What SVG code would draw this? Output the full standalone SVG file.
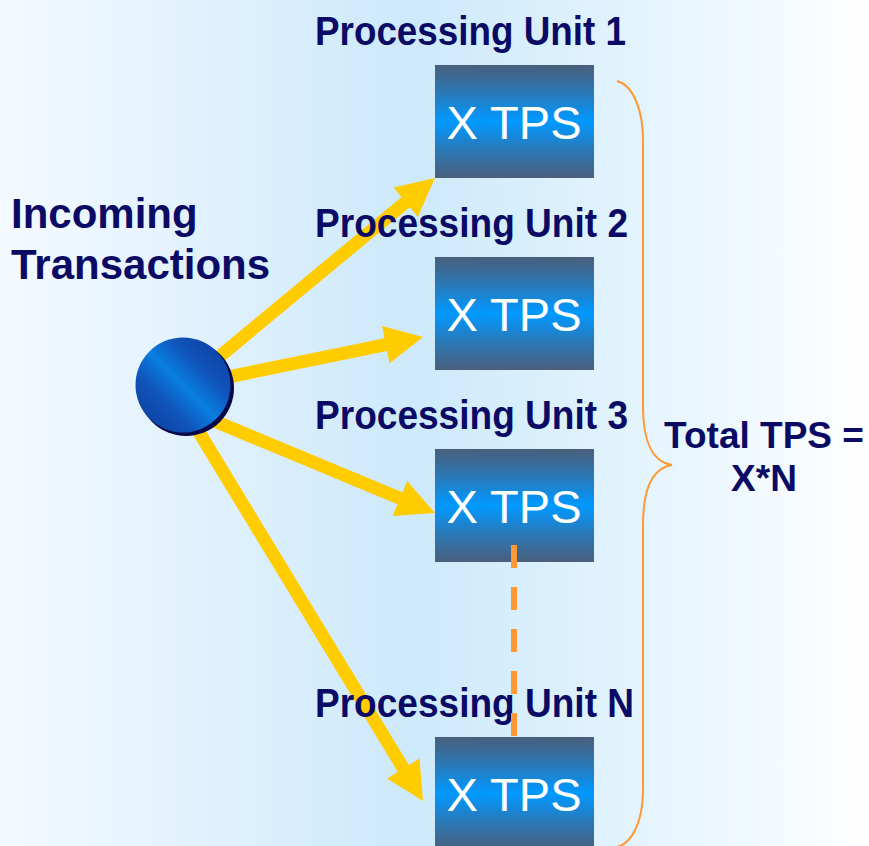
<svg xmlns="http://www.w3.org/2000/svg" width="869" height="846" viewBox="0 0 869 846">
  <defs>
    <linearGradient id="bg" x1="0" y1="0" x2="1" y2="0">
      <stop offset="0" stop-color="#f4faff"/>
      <stop offset="0.47" stop-color="#cde9fb"/>
      <stop offset="0.72" stop-color="#e2f3fd"/>
      <stop offset="1" stop-color="#ffffff"/>
    </linearGradient>
    <linearGradient id="boxg" x1="0" y1="0" x2="0" y2="1">
      <stop offset="0" stop-color="#4a5f7b"/>
      <stop offset="0.25" stop-color="#2a79b8"/>
      <stop offset="0.5" stop-color="#0099ff"/>
      <stop offset="0.75" stop-color="#2a79b8"/>
      <stop offset="1" stop-color="#4a5f7b"/>
    </linearGradient>
    <linearGradient id="sph" x1="1" y1="0" x2="0" y2="1">
      <stop offset="0" stop-color="#0d3d9e"/>
      <stop offset="0.3" stop-color="#1052b8"/>
      <stop offset="0.5" stop-color="#0a7ee0"/>
      <stop offset="0.7" stop-color="#1052b8"/>
      <stop offset="1" stop-color="#0d3a96"/>
    </linearGradient>
    <style>
      .box { fill: url(#boxg); }
      .tps { font-family: "Liberation Sans", Arial, sans-serif; font-size: 47px; fill: #ffffff; text-anchor: middle; }
      .lbl { font-family: "Liberation Sans", Arial, sans-serif; font-weight: bold; font-size: 40px; fill: #0b0b66; }
      .big { font-family: "Liberation Sans", Arial, sans-serif; font-weight: bold; font-size: 42px; fill: #0b0b66; }
      .tot { font-family: "Liberation Sans", Arial, sans-serif; font-weight: bold; font-size: 37px; fill: #0b0b66; text-anchor: middle; }
      .shaft { stroke: #ffcc00; stroke-width: 13; fill: none; }
      .head { fill: #ffcc00; }
    </style>
  </defs>

  <rect x="0" y="0" width="869" height="846" fill="url(#bg)"/>

  <g id="connectors">
    <line class="shaft" x1="184" y1="386" x2="407" y2="201"/>
    <polygon class="head" points="435,178 417.8,216.8 393.6,187.6"/>
    <line class="shaft" x1="184" y1="386" x2="387" y2="344.4"/>
    <polygon class="head" points="423,337 389.6,363.2 382,326"/>
    <line class="shaft" x1="195" y1="413" x2="401" y2="498.8"/>
    <polygon class="head" points="435,513 392.6,515.9 407.2,480.9"/>
    <line class="shaft" x1="191.6" y1="420" x2="404" y2="769.5"/>
    <polygon class="head" points="423,801 387.1,778.4 419.5,758.6"/>
  </g>

  <g id="source">
    <circle cx="186" cy="388" r="48" fill="#08084a"/>
    <circle cx="183" cy="385" r="47.5" fill="url(#sph)"/>
    <text class="big" x="11" y="228">Incoming</text>
    <text class="big" x="11" y="279">Transactions</text>
  </g>

  <g id="unit1">
    <text class="lbl" x="315" y="45" textLength="311" lengthAdjust="spacingAndGlyphs">Processing Unit 1</text>
    <rect class="box" x="435" y="65" width="159" height="113"/>
    <text class="tps" x="514" y="139">X TPS</text>
  </g>
  <g id="unit2">
    <text class="lbl" x="315" y="237" textLength="313" lengthAdjust="spacingAndGlyphs">Processing Unit 2</text>
    <rect class="box" x="435" y="257" width="159" height="113"/>
    <text class="tps" x="514" y="331">X TPS</text>
  </g>
  <g id="unit3">
    <text class="lbl" x="315" y="429" textLength="313" lengthAdjust="spacingAndGlyphs">Processing Unit 3</text>
    <rect class="box" x="435" y="449" width="159" height="113"/>
    <text class="tps" x="514" y="523">X TPS</text>
  </g>
  <g id="unitN">
    <text class="lbl" x="315" y="717" textLength="319" lengthAdjust="spacingAndGlyphs">Processing Unit N</text>
    <rect class="box" x="435" y="737" width="159" height="113"/>
    <text class="tps" x="514" y="811">X TPS</text>
  </g>

  <g id="ellipsis">
    <line x1="514" y1="545" x2="514" y2="737" stroke="#ff9933" stroke-width="6" stroke-dasharray="23 19"/>
  </g>

  <g id="total">
    <path d="M617,81 C633,85 643,110 643,140 L643,407 C643,440 652,462 672,465 C652,468 643,490 643,525 L643,790 C643,820 633,843 617,847" fill="none" stroke="#ff9933" stroke-width="2"/>
    <text class="tot" x="764" y="448">Total TPS =</text>
    <text class="tot" x="764" y="491">X*N</text>
  </g>
</svg>
